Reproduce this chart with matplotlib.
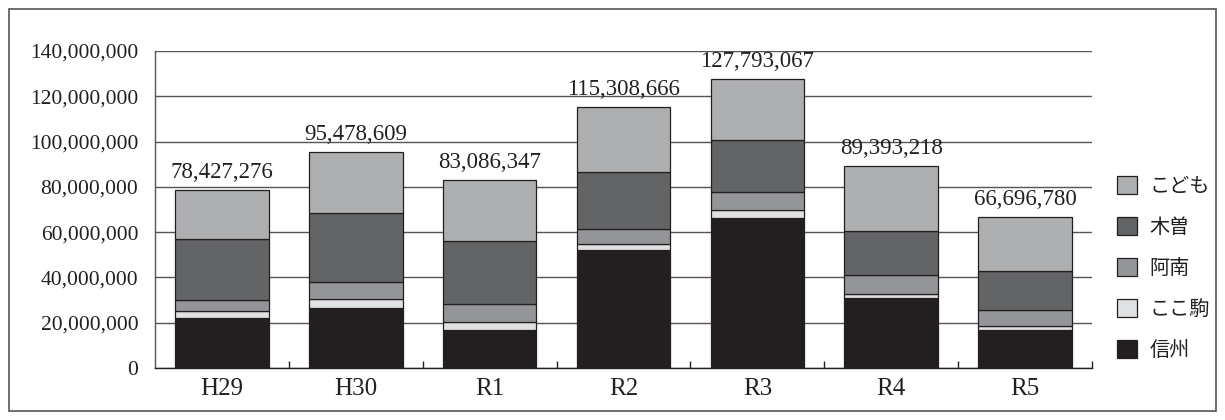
import numpy as np
import matplotlib
matplotlib.use("Agg")
import matplotlib.pyplot as plt
from matplotlib.patches import Rectangle
from matplotlib.ticker import FuncFormatter, FixedLocator

SERIF = ["Liberation Serif", "DejaVu Serif"]
JP = ["Noto Sans CJK JP", "DejaVu Sans"]

years = ["H29", "H30", "R1", "R2", "R3", "R4", "R5"]
totals = [78427276, 95478609, 83086347, 115308666, 127793067, 89393218, 66696780]
shinshu = [21900000, 26500000, 16800000, 52200000, 66400000, 30800000, 16800000]
kokokoma = [3300000, 4000000, 3500000, 2400000, 3400000, 1700000, 1600000]
anan = [5000000, 7600000, 7800000, 6800000, 7900000, 8400000, 7100000]
kiso = [26600000, 30200000, 27900000, 25000000, 23100000, 19700000, 17300000]
# こども = 合計 - 他の4区分
kodomo = [t - a - b - c - d for t, a, b, c, d in zip(totals, shinshu, kokokoma, anan, kiso)]

series = [
    ("信州", shinshu, "#231f20"),
    ("ここ駒", kokokoma, "#e0e1e2"),
    ("阿南", anan, "#939598"),
    ("木曽", kiso, "#636466"),
    ("こども", kodomo, "#aeafb1"),
]

fig = plt.figure(figsize=(12.25, 4.2), dpi=100)
fig.patches.append(Rectangle((9 / 1225, 9 / 420), 1207 / 1225, 402 / 420,
                             transform=fig.transFigure, fill=False,
                             edgecolor="#555555", linewidth=1.2))

ax = fig.add_axes([155 / 1225, 52 / 420, 937 / 1225, 317 / 420])
x = np.arange(len(years))
bottom = np.zeros(len(years))
handles = []
for name, vals, color in series:
    bars = ax.bar(x, vals, width=0.70, bottom=bottom, color=color,
                  edgecolor="#231f20", linewidth=0.9, label=name, zorder=3)
    bottom += np.array(vals)
    handles.append(bars)

ax.bar_label(handles[-1], labels=[f"{t:,}" for t in totals], padding=5,
             fontsize=16.5, family=SERIF, color="#231f20")

ax.set_xlim(-0.5, len(years) - 0.5)
ax.set_ylim(0, 140000000)
ax.set_yticks(np.arange(0, 140000001, 20000000))
ax.yaxis.set_major_formatter(FuncFormatter(lambda v, p: f"{int(v):,}"))
ax.yaxis.grid(True, color="#555555", linewidth=1.0, zorder=0)
ax.set_axisbelow(True)
ax.tick_params(axis="y", length=0, pad=12, labelsize=15.5, colors="#231f20")
for lab in ax.get_yticklabels():
    lab.set_family(SERIF)

ax.set_xticks(x)
ax.set_xticklabels(years, family=SERIF, fontsize=18, color="#231f20")
ax.tick_params(axis="x", which="major", length=0, pad=7)
ax.xaxis.set_minor_locator(FixedLocator(np.arange(0.5, len(years), 1.0)))
ax.tick_params(axis="x", which="minor", direction="in", length=5,
               width=1.0, color="#231f20")

for side in ["top", "right"]:
    ax.spines[side].set_visible(False)
ax.spines["left"].set_color("#555555")
ax.spines["bottom"].set_color("#231f20")
ax.spines["left"].set_linewidth(1.0)
ax.spines["bottom"].set_linewidth(1.0)

leg = fig.legend(handles[::-1], [s[0] for s in series][::-1],
                 loc="center left", bbox_to_anchor=(1117 / 1225, 1 - 268.5 / 420),
                 frameon=False, borderpad=0, borderaxespad=0,
                 handlelength=1.0, handleheight=1.0, handletextpad=0.6,
                 labelspacing=1.0, prop={"family": JP, "size": 14.5})
for t in leg.get_texts():
    t.set_color("#231f20")

fig.savefig("out.png", dpi=100)
